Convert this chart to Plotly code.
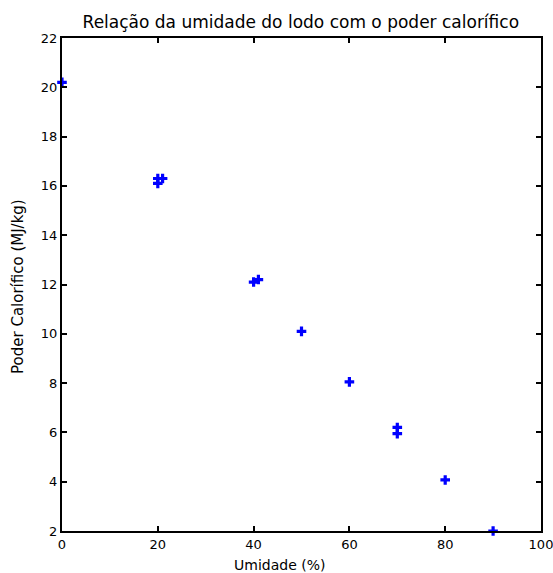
import plotly.graph_objects as go

umidade = [0, 20, 21, 20, 40, 41, 50, 60, 70, 70, 80, 90]
poder_calorifico = [20.2, 16.3, 16.3, 16.1, 12.1, 12.2, 10.1, 8.05, 6.2, 5.95, 4.07, 2.0]

x_ticks = [0, 20, 40, 60, 80, 100]
y_ticks = [2, 4, 6, 8, 10, 12, 14, 16, 18, 20, 22]

FONT = "DejaVu Sans, Liberation Sans, Arial"

fig = go.Figure()
fig.add_trace(go.Scatter(
    x=umidade, y=poder_calorifico, mode="markers",
    marker=dict(symbol="cross", size=8, color="#0000ff", line=dict(width=0)),
    cliponaxis=False, showlegend=False,
))

axis_common = dict(
    showline=True, linecolor="black", linewidth=2, mirror="ticks",
    ticks="inside", ticklen=5, tickwidth=2, tickcolor="black",
    showgrid=False, zeroline=False, automargin=False,
    ticklabeloverflow="allow",
    tickfont=dict(family=FONT, size=13, color="black"),
)

fig.update_layout(
    width=553, height=573,
    margin=dict(l=62, r=12, t=38, b=42),
    paper_bgcolor="white", plot_bgcolor="white",
    title=dict(text="Relação da umidade do lodo com o poder calorífico",
               x=0.544, xanchor="center", y=0.962, yanchor="middle",
               font=dict(family=FONT, size=17, color="black")),
    xaxis=dict(range=[0, 100], tickvals=x_ticks, **axis_common),
    yaxis=dict(range=[2, 22], tickvals=y_ticks, **axis_common),
    annotations=[
        dict(text="Umidade (%)", xref="paper", yref="paper", x=0.455, y=0,
             yshift=-34, xanchor="center", yanchor="middle", showarrow=False,
             font=dict(family=FONT, size=14, color="black")),
        dict(text="Poder Calorífico (MJ/kg)", xref="paper", yref="paper", x=0, y=0.495,
             xshift=-44, xanchor="center", yanchor="middle", textangle=-90, showarrow=False,
             font=dict(family=FONT, size=15, color="black")),
    ],
)

fig.write_html("out.html", config={"displayModeBar": False},
               post_script="document.body.style.margin='0';document.body.style.overflow='hidden';")
